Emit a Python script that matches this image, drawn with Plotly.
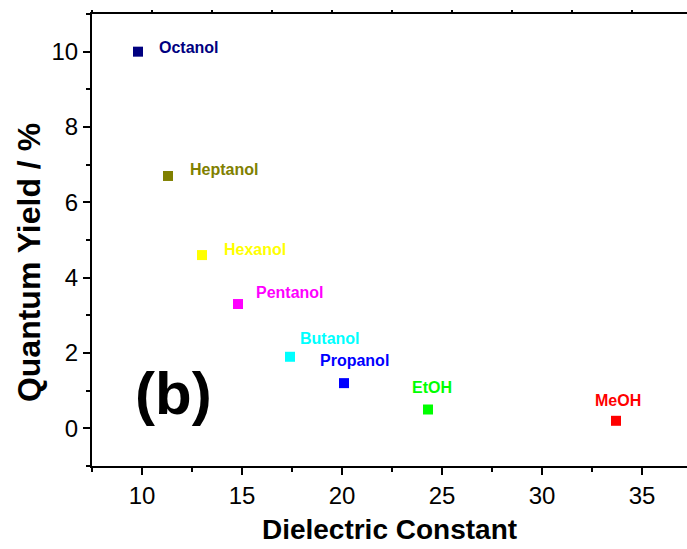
import plotly.graph_objects as go

# ---- data ----
solvents = ["Octanol", "Heptanol", "Hexanol", "Pentanol", "Butanol", "Propanol", "EtOH", "MeOH"]
dielectric = [9.8, 11.3, 13.0, 14.8, 17.4, 20.1, 24.3, 33.7]
quantum_yield = [10.0, 6.7, 4.6, 3.3, 1.9, 1.2, 0.5, 0.2]
colors = ["#000080", "#808000", "#FFFF00", "#FF00FF", "#00FFFF", "#0000FF", "#00FF00", "#FF0000"]

# ---- label styling (pixel offsets from each point) ----
label_xshift = [19, 20, 20, 16, 8, -26, 4, 2]
label_yshift = [4, 6, 6, 12, 18, 23, 22, 20]
label_xanchor = ["left", "left", "left", "left", "left", "left", "center", "center"]

FONT = "Liberation Sans, Arial, sans-serif"

fig = go.Figure()
for name, x, y, c in zip(solvents, dielectric, quantum_yield, colors):
    fig.add_trace(go.Scatter(
        x=[x], y=[y], mode="markers", name=name,
        marker=dict(symbol="square", size=10, color=c, line=dict(width=0)),
        showlegend=False,
    ))

annotations = []
for name, x, y, c, dx, dy, xa in zip(solvents, dielectric, quantum_yield, colors,
                                     label_xshift, label_yshift, label_xanchor):
    annotations.append(dict(
        x=x, y=y, xref="x", yref="y", text=f"<b>{name}</b>", showarrow=False,
        xanchor=xa, yanchor="middle", xshift=dx, yshift=dy,
        font=dict(family=FONT, size=16, color=c),
    ))
annotations.append(dict(
    x=0.137, y=0.161, xref="paper", yref="paper", text="<b>(b)</b>", showarrow=False,
    xanchor="center", yanchor="middle", font=dict(family=FONT, size=60, color="black"),
))
# y-axis title
annotations.append(dict(
    x=-0.106, y=0.451, xref="paper", yref="paper", text="<b>Quantum Yield / %</b>",
    showarrow=False, textangle=-90, xanchor="center", yanchor="middle",
    font=dict(family=FONT, size=32, color="black"),
))

# invisible trace to activate top axis
fig.add_trace(go.Scatter(x=[None], y=[None], xaxis="x2", showlegend=False, hoverinfo="skip"))

fig.update_layout(
    width=687, height=549,
    margin=dict(l=92, r=0, t=14, b=83),
    paper_bgcolor="white", plot_bgcolor="white",
    font=dict(family=FONT, color="black"),
    annotations=annotations,
    xaxis=dict(
        range=[7.5, 37.25], tickmode="linear", tick0=10, dtick=5,
        showgrid=False, zeroline=False,
        showline=True, linecolor="black", linewidth=2,
        ticks="outside", ticklen=7, tickwidth=2, tickcolor="black",
        minor=dict(ticks="outside", ticklen=4, tickwidth=2, tickcolor="black", dtick=2.5, tick0=7.5),
        tickfont=dict(size=24, family=FONT),
        title=dict(text="<b>Dielectric Constant</b>", font=dict(size=28, family=FONT), standoff=12),
    ),
    xaxis2=dict(
        overlaying="x", side="top", range=[0, 9.917], tickmode="linear", tick0=0, dtick=1,
        showgrid=False, zeroline=False, showticklabels=False,
        showline=True, linecolor="black", linewidth=2,
        ticks="outside", ticklen=2, tickwidth=2, tickcolor="black",
    ),
    yaxis=dict(
        range=[-1, 11], tickmode="linear", tick0=0, dtick=2,
        showgrid=False, zeroline=False,
        showline=True, linecolor="black", linewidth=2,
        ticks="outside", ticklen=7, tickwidth=2, tickcolor="black",
        minor=dict(ticks="outside", ticklen=4, tickwidth=2, tickcolor="black", dtick=1, tick0=-1),
        tickfont=dict(size=24, family=FONT),
    ),
)

fig.write_html("out.html")
